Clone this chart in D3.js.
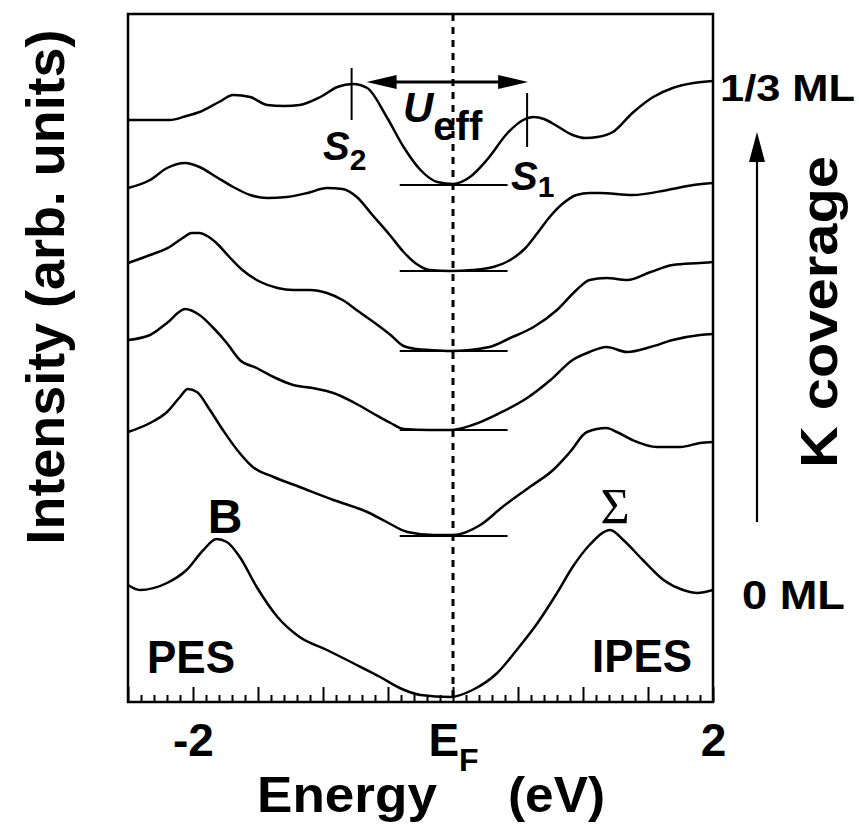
<!DOCTYPE html>
<html>
<head>
<meta charset="utf-8">
<script src="https://cdn.jsdelivr.net/npm/d3@7"></script>
<style>
  html, body { margin: 0; padding: 0; background: #fff; }
  svg { display: block; }
  text { font-family: "Liberation Sans", Arial, Helvetica, sans-serif; font-weight: bold; fill: #000; }
</style>
</head>
<body>
<svg id="chart" width="859" height="831"></svg>
<script>
// Energy axis (eV, relative to the Fermi level)
const energyDomain = [-2.5, 2];
const minorTicks = d3.range(-25, 21).map(i => i / 10);
const majorTicks = [-2.5, -2, -1.5, -1, -0.5, 0, 0.5, 1, 1.5, 2];
const labelTicks = [-2, 0, 2];

// Vertical offsets of the stacked spectra (arb. units), top = 1/3 ML, bottom = 0 ML
const offsets = [5.17, 4.31, 3.51, 2.72, 1.66, 0.05];
const coverageTop = "1/3 ML";
const coverageBottom = "0 ML";

// Combined PES / IPES spectra: [energy (eV), intensity above own baseline (arb. units)]
const spectrum1 = [[-2.5,0.65],[-2.33,0.65],[-2.18,0.65],[-2.05,0.69],[-1.95,0.73],[-1.8,0.83],[-1.69,0.90],[-1.56,0.88],[-1.43,0.80],[-1.3,0.79],[-1.18,0.80],[-1.02,0.88],[-0.89,0.98],[-0.77,1.01],[-0.66,0.97],[-0.51,0.68],[-0.38,0.38],[-0.25,0.15],[-0.12,0.03],[0,0.01],[0.13,0.08],[0.26,0.25],[0.42,0.52],[0.54,0.65],[0.62,0.68],[0.70,0.66],[0.80,0.59],[0.92,0.50],[1.02,0.47],[1.11,0.48],[1.23,0.53],[1.38,0.72],[1.54,0.88],[1.69,0.97],[1.85,1.02],[2.0,1.04]];
const spectrum2 = [[-2.5,0.83],[-2.33,0.91],[-2.2,1.03],[-2.06,1.08],[-1.95,1.04],[-1.82,0.94],[-1.69,0.84],[-1.56,0.76],[-1.43,0.73],[-1.28,0.74],[-1.12,0.78],[-0.97,0.83],[-0.85,0.82],[-0.74,0.74],[-0.62,0.56],[-0.48,0.35],[-0.38,0.19],[-0.28,0.07],[-0.18,0.01],[-0.02,0],[0.15,0.01],[0.31,0.04],[0.44,0.11],[0.55,0.22],[0.65,0.38],[0.75,0.55],[0.85,0.68],[0.95,0.76],[1.05,0.78],[1.13,0.78],[1.38,0.76],[1.65,0.81],[1.85,0.86],[2.0,0.88]];
const spectrum3 = [[-2.5,0.88],[-2.33,0.96],[-2.18,1.04],[-2.08,1.13],[-2.01,1.18],[-1.95,1.18],[-1.89,1.15],[-1.82,1.08],[-1.72,0.94],[-1.62,0.81],[-1.48,0.69],[-1.35,0.63],[-1.23,0.61],[-1.1,0.61],[-0.97,0.58],[-0.85,0.51],[-0.72,0.39],[-0.58,0.26],[-0.48,0.16],[-0.38,0.05],[-0.28,0.02],[-0.18,0.01],[-0.02,0],[0.28,0.04],[0.44,0.13],[0.62,0.24],[0.8,0.41],[0.95,0.61],[1.05,0.71],[1.18,0.73],[1.34,0.71],[1.52,0.79],[1.69,0.86],[1.9,0.88],[2.0,0.89]];
const spectrum4 = [[-2.5,0.9],[-2.33,0.95],[-2.2,1.07],[-2.06,1.21],[-1.95,1.15],[-1.85,1.03],[-1.74,0.87],[-1.64,0.7],[-1.51,0.62],[-1.38,0.53],[-1.23,0.45],[-1.08,0.42],[-0.92,0.37],[-0.77,0.28],[-0.62,0.17],[-0.48,0.07],[-0.38,0.01],[-0.18,0],[-0.02,0],[0.15,0.05],[0.36,0.17],[0.57,0.32],[0.75,0.5],[0.92,0.7],[1.05,0.78],[1.18,0.83],[1.34,0.78],[1.52,0.83],[1.69,0.9],[1.9,0.95],[2.0,0.96]];
const spectrum5 = [[-2.5,1.04],[-2.33,1.13],[-2.2,1.24],[-2.1,1.39],[-2.04,1.47],[-1.97,1.44],[-1.87,1.26],[-1.77,1.06],[-1.66,0.86],[-1.54,0.69],[-1.38,0.59],[-1.18,0.49],[-0.92,0.36],[-0.66,0.24],[-0.51,0.14],[-0.35,0.04],[-0.15,0.01],[0,0.01],[0.21,0.11],[0.38,0.29],[0.59,0.49],[0.77,0.66],[0.9,0.84],[1.03,1.04],[1.18,1.08],[1.26,1.04],[1.38,0.96],[1.57,0.89],[1.75,0.89],[1.9,0.93],[2.0,0.94]];
const spectrum6 = [[-2.5,1.12],[-2.41,1.07],[-2.2,1.14],[-2.05,1.27],[-1.92,1.47],[-1.82,1.58],[-1.74,1.55],[-1.64,1.40],[-1.51,1.10],[-1.35,0.80],[-1.18,0.60],[-0.97,0.47],[-0.77,0.34],[-0.56,0.20],[-0.41,0.09],[-0.25,0.02],[-0.02,0],[0.15,0.07],[0.34,0.24],[0.49,0.47],[0.65,0.74],[0.8,1.04],[0.92,1.30],[1.05,1.52],[1.21,1.67],[1.31,1.57],[1.46,1.37],[1.62,1.17],[1.77,1.07],[1.88,1.04],[2.0,1.07]];
const spectra = [spectrum1, spectrum2, spectrum3, spectrum4, spectrum5, spectrum6];

// Baseline markers drawn around E_F for the K-covered spectra
const baselineSpan = [-0.41, 0.42];
// Split surface-state peaks of the 1/3 ML spectrum
const peakS2 = -0.78;
const peakS1 = 0.57;

const svg = d3.select("#chart");
svg.append("rect").attr("width", 859).attr("height", 831).attr("fill", "#fff");

const x = d3.scaleLinear().domain(energyDomain).range([128, 713]);
const y = d3.scaleLinear().domain([0, 6.88]).range([702, 14]);

const line = d3.line()
  .x(d => x(d[0]))
  .y(d => y(d[1]))
  .curve(d3.curveMonotoneX);

// Ticks along the bottom edge, pointing into the frame
const tickGroup = (values, size) => svg.append("g")
  .attr("transform", `translate(0,${y(0)})`)
  .call(d3.axisBottom(x).tickValues(values).tickSize(-size).tickFormat(""))
  .call(g => g.select(".domain").remove())
  .call(g => g.selectAll("line").attr("stroke", "#000").attr("stroke-width", 2));
tickGroup(minorTicks.filter(t => !majorTicks.some(m => Math.abs(m - t) < 1e-9)), 7);
tickGroup(majorTicks, 15);

// Tick labels: -2, E_F, 2
const labels = svg.append("g")
  .attr("transform", `translate(0,${y(0)})`)
  .call(d3.axisBottom(x).tickValues(labelTicks).tickSize(0)
    .tickFormat(d => d === 0 ? "E" : String(d)))
  .call(g => g.select(".domain").remove())
  .attr("font-family", null).attr("font-size", null);
labels.selectAll("text")
  .attr("y", 54).attr("dy", 0)
  .style("font-size", "46px").style("font-weight", "bold").attr("fill", "#000")
  .each(function(d) {
    if (d === 0) {
      d3.select(this).append("tspan").text("F")
        .attr("dy", 15).style("font-size", "32px");
    }
  });

// Fermi level
svg.append("line")
  .attr("x1", x(0)).attr("x2", x(0))
  .attr("y1", y.range()[1]).attr("y2", y.range()[0])
  .attr("stroke", "#000").attr("stroke-width", 3)
  .attr("stroke-dasharray", "7,6");

// Baselines around E_F
svg.append("g").selectAll("line")
  .data(offsets.slice(0, 5))
  .join("line")
  .attr("x1", x(baselineSpan[0])).attr("x2", x(baselineSpan[1]))
  .attr("y1", d => y(d)).attr("y2", d => y(d))
  .attr("stroke", "#000").attr("stroke-width", 2.2);

// Spectra
svg.append("g").selectAll("path")
  .data(spectra.map((s, i) => s.map(([e, v]) => [e, v + offsets[i]])))
  .join("path")
  .attr("d", line)
  .attr("fill", "none")
  .attr("stroke", "#000")
  .attr("stroke-width", 2.5)
  .attr("stroke-linejoin", "round");

// Frame
svg.append("rect")
  .attr("x", x(energyDomain[0])).attr("y", y.range()[1])
  .attr("width", x(energyDomain[1]) - x(energyDomain[0]))
  .attr("height", y.range()[0] - y.range()[1])
  .attr("fill", "none").attr("stroke", "#000").attr("stroke-width", 2.5);

// S2 / S1 markers and the U_eff double arrow
svg.append("line").attr("x1", x(peakS2)).attr("x2", x(peakS2))
  .attr("y1", y(6.34)).attr("y2", y(5.82)).attr("stroke", "#000").attr("stroke-width", 2);
svg.append("line").attr("x1", x(peakS1)).attr("x2", x(peakS1))
  .attr("y1", y(6.09)).attr("y2", y(5.55)).attr("stroke", "#000").attr("stroke-width", 2);

const ay = y(6.20);
const ax1 = x(peakS2) + 15, ax2 = x(peakS1) + 1;
svg.append("line").attr("x1", ax1 + 20).attr("x2", ax2 - 20)
  .attr("y1", ay).attr("y2", ay).attr("stroke", "#000").attr("stroke-width", 3);
svg.append("path")
  .attr("d", `M${ax1},${ay} L${ax1 + 30},${ay - 7} L${ax1 + 30},${ay + 7} Z M${ax2},${ay} L${ax2 - 30},${ay - 7} L${ax2 - 30},${ay + 7} Z`)
  .attr("fill", "#000");

const s2 = svg.append("text").attr("x", 323).attr("y", 160);
s2.append("tspan").text("S").style("font-size", "40px").style("font-style", "italic");
s2.append("tspan").text("2").attr("dy", 10).style("font-size", "30px");

const s1 = svg.append("text").attr("x", 511).attr("y", 190);
s1.append("tspan").text("S").style("font-size", "40px").style("font-style", "italic");
s1.append("tspan").text("1").attr("dy", 7).style("font-size", "30px");

const ueff = svg.append("text").attr("x", 403).attr("y", 122);
ueff.append("tspan").text("U").style("font-size", "42px").style("font-style", "italic");
ueff.append("tspan").text("eff").attr("dy", 18).style("font-size", "40px");

// Peak labels and technique labels
svg.append("text").attr("x", 225).attr("y", 533).attr("text-anchor", "middle")
  .style("font-size", "48px").text("B");
svg.append("text").attr("x", 615).attr("y", 523).attr("text-anchor", "middle")
  .style("font-size", "50px").style("font-weight", "normal")
  .style("font-family", "'Liberation Serif', 'DejaVu Serif', serif").text("Σ");
svg.append("text").attr("x", 147).attr("y", 673)
  .attr("textLength", 88).attr("lengthAdjust", "spacingAndGlyphs")
  .style("font-size", "46px").text("PES");
svg.append("text").attr("x", 592).attr("y", 672)
  .attr("textLength", 100).attr("lengthAdjust", "spacingAndGlyphs")
  .style("font-size", "46px").text("IPES");

// Coverage labels and arrow
svg.append("text").attr("x", 720).attr("y", 101)
  .attr("textLength", 135).attr("lengthAdjust", "spacingAndGlyphs")
  .style("font-size", "37px").text(coverageTop);
svg.append("text").attr("x", 742).attr("y", 609)
  .attr("textLength", 103).attr("lengthAdjust", "spacingAndGlyphs")
  .style("font-size", "40px").text(coverageBottom);
svg.append("line").attr("x1", 757).attr("x2", 757).attr("y1", 522).attr("y2", 150)
  .attr("stroke", "#000").attr("stroke-width", 2.2);
svg.append("path").attr("d", "M757,132 L749,162 L765,162 Z").attr("fill", "#000");
svg.append("text")
  .attr("transform", "translate(837,312) rotate(-90)")
  .attr("text-anchor", "middle")
  .attr("textLength", 312).attr("lengthAdjust", "spacingAndGlyphs")
  .style("font-size", "52px").text("K  coverage");

// Axis titles
svg.append("text").attr("x", 257).attr("y", 812)
  .attr("textLength", 180).attr("lengthAdjust", "spacingAndGlyphs")
  .style("font-size", "50px").text("Energy");
svg.append("text").attr("x", 508).attr("y", 812)
  .attr("textLength", 97).attr("lengthAdjust", "spacingAndGlyphs")
  .style("font-size", "50px").text("(eV)");
svg.append("text")
  .attr("transform", "translate(64,287) rotate(-90)")
  .attr("text-anchor", "middle")
  .attr("textLength", 515).attr("lengthAdjust", "spacingAndGlyphs")
  .style("font-size", "54px").text("Intensity (arb. units)");
</script>
</body>
</html>
